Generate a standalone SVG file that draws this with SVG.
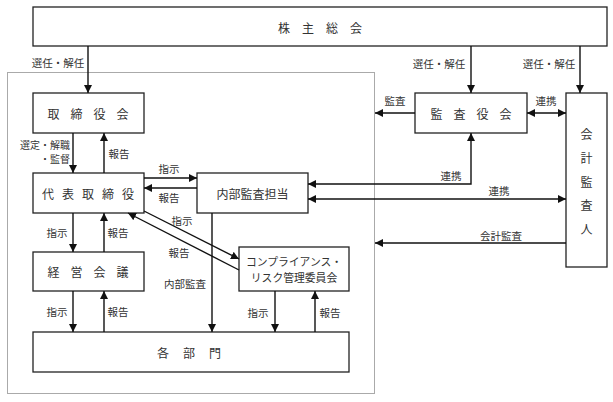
<svg xmlns="http://www.w3.org/2000/svg" width="613" height="402" viewBox="0 0 613 402">
<defs>
<marker id="ah" markerUnits="userSpaceOnUse" markerWidth="9" markerHeight="8" refX="8" refY="4" orient="auto-start-reverse">
<path d="M0,0 L8,4 L0,8 z" fill="#111"/>
</marker>
<style>
.box{fill:#fff;stroke:#222;stroke-width:1.3}
.t{font-family:"Noto Sans CJK JP","Noto Sans CJK SC",sans-serif;fill:#333;dominant-baseline:central;text-anchor:middle}
.bt{font-size:12px}
.lb{font-size:10.5px}
.c{fill:none;stroke:#111;stroke-width:1.4}
.a{marker-end:url(#ah)}
.b{marker-start:url(#ah);marker-end:url(#ah)}
</style>
</defs>
<rect x="7.5" y="72.5" width="367" height="321" fill="none" stroke="#555" stroke-width="1" stroke-dasharray="1 1"/>
<g id="kabunushi"><rect class="box" x="33" y="7" width="574" height="39"/><text class="t bt" x="326" y="27" letter-spacing="12">株主総会</text></g>
<g id="torishimariyakukai"><rect class="box" x="33" y="93" width="111" height="40"/><text class="t bt" x="93.5" y="113" letter-spacing="11">取締役会</text></g>
<g id="daihyo"><rect class="box" x="33" y="173" width="111" height="40"/><text class="t bt" x="92" y="193" letter-spacing="8">代表取締役</text></g>
<g id="keiei"><rect class="box" x="33" y="252" width="111" height="39"/><text class="t bt" x="93.5" y="271.5" letter-spacing="11">経営会議</text></g>
<g id="kakubumon"><rect class="box" x="33" y="332" width="316" height="40"/><text class="t bt" x="196" y="352" letter-spacing="14">各部門</text></g>
<g id="naibu"><rect class="box" x="197" y="173" width="111" height="40"/><text class="t bt" x="252.5" y="193">内部監査担当</text></g>
<g id="compliance"><rect class="box" x="239" y="247" width="110" height="44"/><text class="t" font-size="10.8" x="294" y="261">コンプライアンス・</text><text class="t" font-size="10.8" x="294" y="277">リスク管理委員会</text></g>
<g id="kansayakukai"><rect class="box" x="415" y="93" width="112" height="40"/><text class="t bt" x="476.5" y="113" letter-spacing="11">監査役会</text></g>
<g id="kaikei"><rect class="box" x="566" y="93" width="41" height="174"/>
<text class="t bt" x="586.5" y="133">会</text><text class="t bt" x="586.5" y="157">計</text><text class="t bt" x="586.5" y="181">監</text><text class="t bt" x="586.5" y="204">査</text><text class="t bt" x="586.5" y="228">人</text></g>
<g id="connectors">
<path class="c a" d="M88,46 V93"/>
<path class="c a" d="M471,46 V93"/>
<path class="c a" d="M580,46 V93"/>
<path class="c a" d="M73,133 V173"/>
<path class="c a" d="M104,173 V133"/>
<path class="c a" d="M144,178 H197"/>
<path class="c a" d="M197,188 H144"/>
<path class="c a" d="M144,211 L239,259"/>
<path class="c a" d="M239,270 L128,213"/>
<path class="c a" d="M73,213 V252"/>
<path class="c a" d="M104,252 V213"/>
<path class="c a" d="M73,291 V332"/>
<path class="c a" d="M104,332 V291"/>
<path class="c a" d="M212,213 V332"/>
<path class="c a" d="M275,291 V332"/>
<path class="c a" d="M315,332 V291"/>
<path class="c a" d="M415,113 H375"/>
<path class="c b" d="M527,113 H566"/>
<path class="c b" d="M471,133 V184 H308"/>
<path class="c b" d="M308,199 H566"/>
<path class="c a" d="M566,243 H375"/>
<text class="t lb" x="58" y="62">選任・解任</text>
<text class="t lb" x="439" y="63">選任・解任</text>
<text class="t lb" x="549" y="63">選任・解任</text>
<text class="t" font-size="10" x="70" y="144" style="text-anchor:end">選定・解職</text>
<text class="t" font-size="10" x="70" y="158" style="text-anchor:end">・監督</text>
<text class="t lb" x="119" y="153">報告</text>
<text class="t lb" x="169" y="168">指示</text>
<text class="t lb" x="169" y="197">報告</text>
<text class="t lb" x="182" y="220">指示</text>
<text class="t lb" x="179" y="252">報告</text>
<text class="t lb" x="57" y="232">指示</text>
<text class="t lb" x="118" y="232">報告</text>
<text class="t lb" x="57" y="311">指示</text>
<text class="t lb" x="118" y="311">報告</text>
<text class="t lb" x="185" y="283">内部監査</text>
<text class="t lb" x="258" y="312">指示</text>
<text class="t lb" x="330" y="312">報告</text>
<text class="t lb" x="395" y="100">監査</text>
<text class="t lb" x="546" y="100">連携</text>
<text class="t lb" x="451" y="175">連携</text>
<text class="t lb" x="499" y="190">連携</text>
<text class="t lb" x="501" y="235">会計監査</text>
</g>
</svg>
